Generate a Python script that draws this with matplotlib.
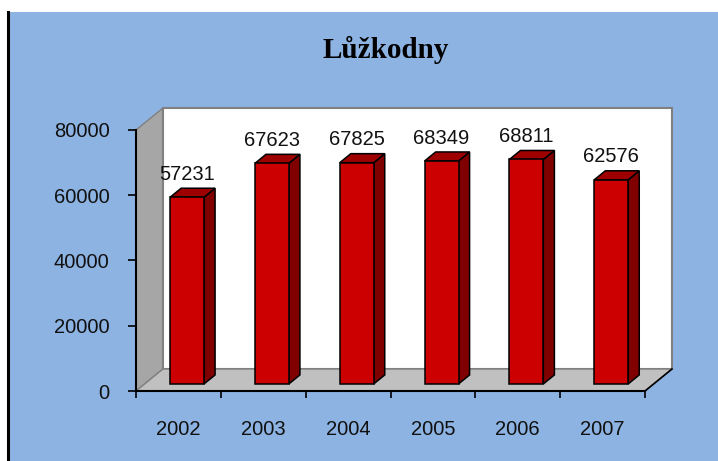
import matplotlib
matplotlib.use("Agg")
import matplotlib.pyplot as plt
from matplotlib.patches import Rectangle
import numpy as np

# ---------- data ----------
years = ["2002", "2003", "2004", "2005", "2006", "2007"]
values = [57231, 67623, 67825, 68349, 68811, 62576]
title = "Lůžkodny"

# ---------- style ----------
BG_BLUE = "#8DB3E2"
FRONT = "#CC0000"
SIDE = "#800000"
TOP = "#9E0000"
WALL_LEFT = "#A6A6A6"
FLOOR = "#C0C0C0"
EDGE_GRAY = "#808080"

YMAX = 80000
DX = 0.318          # depth shift in category units
DY = 6740           # depth shift in value units
F0, F1 = 0.32, 0.73  # bar front/back position inside the depth
BAR_W = 0.40

plt.rcParams["font.family"] = ["Liberation Sans", "DejaVu Sans"]

fig = plt.figure(figsize=(7.18, 4.61), dpi=100, facecolor="white")

# blue chart area + black left border (behind the axes)
fig.patches.append(Rectangle((8 / 718, 0), 1, 1 - 12 / 461, transform=fig.transFigure,
                             facecolor=BG_BLUE, edgecolor="none", zorder=-10))
fig.lines.append(plt.Line2D([8 / 718, 8 / 718], [0, 1 - 12 / 461], transform=fig.transFigure,
                            color="black", linewidth=2.2, zorder=-9))

ax = fig.add_axes([136 / 718, 70 / 461, 509 / 718, 261 / 461])
ax.set_facecolor("none")
n = len(years)
x0, x1 = -0.5, n - 0.5
ax.set_xlim(x0, x1)
ax.set_ylim(0, YMAX)

# ---------- walls ----------
# left wall
ax.fill([x0, x0, x0 + DX, x0 + DX], [0, YMAX, YMAX + DY, DY],
        facecolor=WALL_LEFT, edgecolor=EDGE_GRAY, linewidth=1, clip_on=False, zorder=0.5)
# back wall
ax.fill([x0 + DX, x1 + DX, x1 + DX, x0 + DX], [DY, DY, YMAX + DY, YMAX + DY],
        facecolor="white", edgecolor=EDGE_GRAY, linewidth=1.5, clip_on=False, zorder=0.5)
# floor
ax.fill([x0, x1, x1 + DX, x0 + DX], [0, 0, DY, DY],
        facecolor=FLOOR, edgecolor=EDGE_GRAY, linewidth=1, clip_on=False, zorder=0.6)
ax.plot([x1, x1 + DX], [0, DY], color="black", linewidth=1.2, clip_on=False, zorder=0.7)

# ---------- bars ----------
xs = np.arange(n)
vals = np.array(values, dtype=float)
cx = xs + F0 * DX
yb = F0 * DY
yt = vals + yb
ddx = (F1 - F0) * DX
ddy = (F1 - F0) * DY

for i in range(n):
    xl, xr = cx[i] - BAR_W / 2, cx[i] + BAR_W / 2
    # side face
    ax.fill([xr, xr + ddx, xr + ddx, xr], [yb, yb + ddy, yt[i] + ddy, yt[i]],
            facecolor=SIDE, edgecolor="black", linewidth=1.1, clip_on=False, zorder=2)
    # top face
    ax.fill([xl, xl + ddx, xr + ddx, xr], [yt[i], yt[i] + ddy, yt[i] + ddy, yt[i]],
            facecolor=TOP, edgecolor="black", linewidth=1.1, clip_on=False, zorder=2)

ax.bar(cx, vals, width=BAR_W, bottom=yb, color=FRONT, edgecolor="black",
       linewidth=1.1, zorder=3, clip_on=False)

for i in range(n):
    ax.annotate(f"{values[i]}", (cx[i], yt[i] + ddy), xytext=(0, 6),
                textcoords="offset points", ha="center", va="baseline",
                fontsize=14.5, color="#111111", annotation_clip=False, zorder=4)

# ---------- axes ----------
ax.spines["top"].set_visible(False)
ax.spines["right"].set_visible(False)
for s in ("left", "bottom"):
    ax.spines[s].set_color("black")
    ax.spines[s].set_linewidth(1.5)
    ax.spines[s].set_zorder(5)

ax.set_yticks(np.arange(0, YMAX + 1, 20000))
ax.set_yticklabels([f"{int(v)}" for v in np.arange(0, YMAX + 1, 20000)])
ax.set_xticks(np.arange(-0.5, n, 1.0))
ax.set_xticks(xs, minor=True)
ax.set_xticklabels([])
ax.set_xticklabels(years, minor=True)
ax.tick_params(axis="y", direction="out", length=6, width=1.2, pad=13,
               labelsize=14.5, colors="black", labelcolor="#111111")
ax.tick_params(axis="x", which="major", direction="out", length=5, width=1.2)
ax.tick_params(axis="x", which="minor", length=0, pad=21, labelsize=14.5, labelcolor="#111111")

fig.text(386 / 718, 1 - 58 / 461, title, ha="center", va="baseline",
         fontsize=21, fontweight="bold", family=["Liberation Serif", "DejaVu Serif"])

fig.savefig("out.png", dpi=100, facecolor="white")
